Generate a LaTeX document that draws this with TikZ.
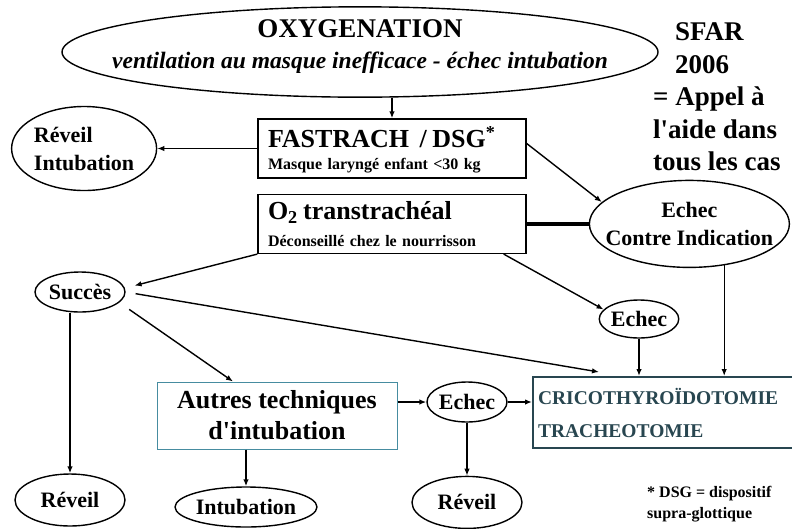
\documentclass[tikz,border=0pt]{standalone}
\usepackage{fontspec}
\setmainfont{Liberation Serif}
\usetikzlibrary{positioning,arrows.meta,shapes}
\definecolor{tealc}{RGB}{70,140,160}
\definecolor{slatec}{RGB}{40,70,80}
\tikzstyle{oval}=[ellipse, draw=black, line width=1.4pt, inner sep=0pt, align=center, font=\bfseries\fontsize{22}{28}\selectfont]
\tikzstyle{tbox}=[rectangle, draw=black, line width=1.4pt, inner xsep=10pt, inner ysep=0pt, minimum width=268pt, minimum height=59pt, text width=248pt, align=left, font=\bfseries\fontsize{16}{20}\selectfont]
\tikzstyle{pline}=[-{Latex[length=7pt,width=5.5pt]}, line width=1.4pt]
\tikzstyle{bline}=[-, line width=4pt]
\begin{document}
\begin{tikzpicture}[x=1pt,y=-1pt]
\useasboundingbox[fill=white] (0,0) rectangle (792,528);
\node (OXY) [oval, minimum width=596pt, minimum height=86pt] at (360,52) {\makebox[0pt]{\fontsize{27}{30}\selectfont OXYGENATION}\\[3pt]\makebox[0pt]{\fontsize{23.5}{30}\selectfont\itshape ventilation au masque inefficace - échec intubation}\rule[-15pt]{0pt}{16pt}};
\node (SFAR) [font=\bfseries\fontsize{27}{32.5}\selectfont, align=left, anchor=west, inner sep=0pt] at (653,97) {\hspace*{22pt}SFAR\\\hspace*{22pt}2006\\= Appel à\\l\textquotesingle aide dans\\tous les cas};
\node (FAST) [tbox] at (392,148.5) {\rule{0pt}{24pt}{\fontsize{26}{30}\selectfont FASTRACH\ \ / DSG\textsuperscript{*}}\\[2pt]Masque laryngé enfant <30 kg};
 \draw[pline] (OXY.south -| FAST.north) -- (FAST.north);
\node (RI) [oval, minimum width=145pt, minimum height=84pt, align=left, left=100pt of FAST] {Réveil\\Intubation};
 \draw[pline] (FAST.west) -- (RI.east);
\node (O2) [tbox, below=15pt of FAST] {{\fontsize{26}{30}\selectfont O\textsubscript{2} transtrachéal}\\[7pt]Déconseillé chez le nourrisson};
\node (CI) [oval, minimum width=200pt, minimum height=87pt, right=62pt of O2] {Echec\\\makebox[0pt]{Contre Indication}};
 \draw[pline] ([yshift=5pt]FAST.east) -- (CI.166);
 \draw[bline] (O2.east) -- (CI.west);
\node (SUC) [oval, minimum width=90pt, minimum height=40pt] at (80,292) {Succès};
 \draw[pline, shorten >=10pt] (O2.south west) -- (SUC.5);
\node (ECH1) [oval, minimum width=78pt, minimum height=38pt] at (639,319) {Echec};
 \draw[pline] ([xshift=-23pt]O2.south east) -- (ECH1.165);
\node (CRICO) [rectangle, draw=slatec, line width=2pt, minimum width=267pt, minimum height=71pt, inner xsep=5pt, text width=257pt, align=left, text=slatec, font=\bfseries\fontsize{19.5}{33}\selectfont] at (666.5,412.5) {CRICOTHYROÏDOTOMIE\\TRACHEOTOMIE};
 \draw[pline] (ECH1.south) -- (ECH1.south |- CRICO.north);
 \draw[pline] (CI.-50) -- (CI.-50 |- CRICO.north);
\node (AUT) [rectangle, draw=tealc, line width=1pt, minimum width=240pt, minimum height=67pt, align=center, font=\bfseries\fontsize{26}{31}\selectfont] at (277,415.5) {Autres techniques\\d\textquotesingle intubation};
\node (RV1) [oval, minimum width=110pt, minimum height=52pt] at (70,500) {Réveil};
 \draw[pline] (SUC.south -| RV1.north) -- (RV1.north);
 \draw[pline, shorten <=12pt] (SUC.-15) -- ([xshift=-44pt]AUT.north);
 \draw[pline, shorten <=10pt] (SUC.east) -- ([xshift=67pt,yshift=4pt]CRICO.north west);
\node (ECH2) [oval, minimum width=80pt, minimum height=40pt] at (467,402) {Echec};
 \draw[pline] (AUT.east |- ECH2.west) -- (ECH2.west);
 \draw[pline] (ECH2.east) -- (ECH2.east -| CRICO.west);
\node (RV3) [oval, minimum width=110pt, minimum height=52pt, below=53pt of ECH2] {Réveil};
 \draw[pline] (ECH2.south) -- (RV3.north);
\node (INT) [oval, minimum width=142pt, minimum height=40pt] at (246,507) {Intubation};
 \draw[pline] (AUT.south -| INT.north) -- (INT.north);
\node (NOTE) [font=\bfseries\fontsize{16}{21}\selectfont, align=left, anchor=north west, inner sep=0pt] at (647,486) {* DSG = dispositif\\supra-glottique};
\end{tikzpicture}
\end{document}
